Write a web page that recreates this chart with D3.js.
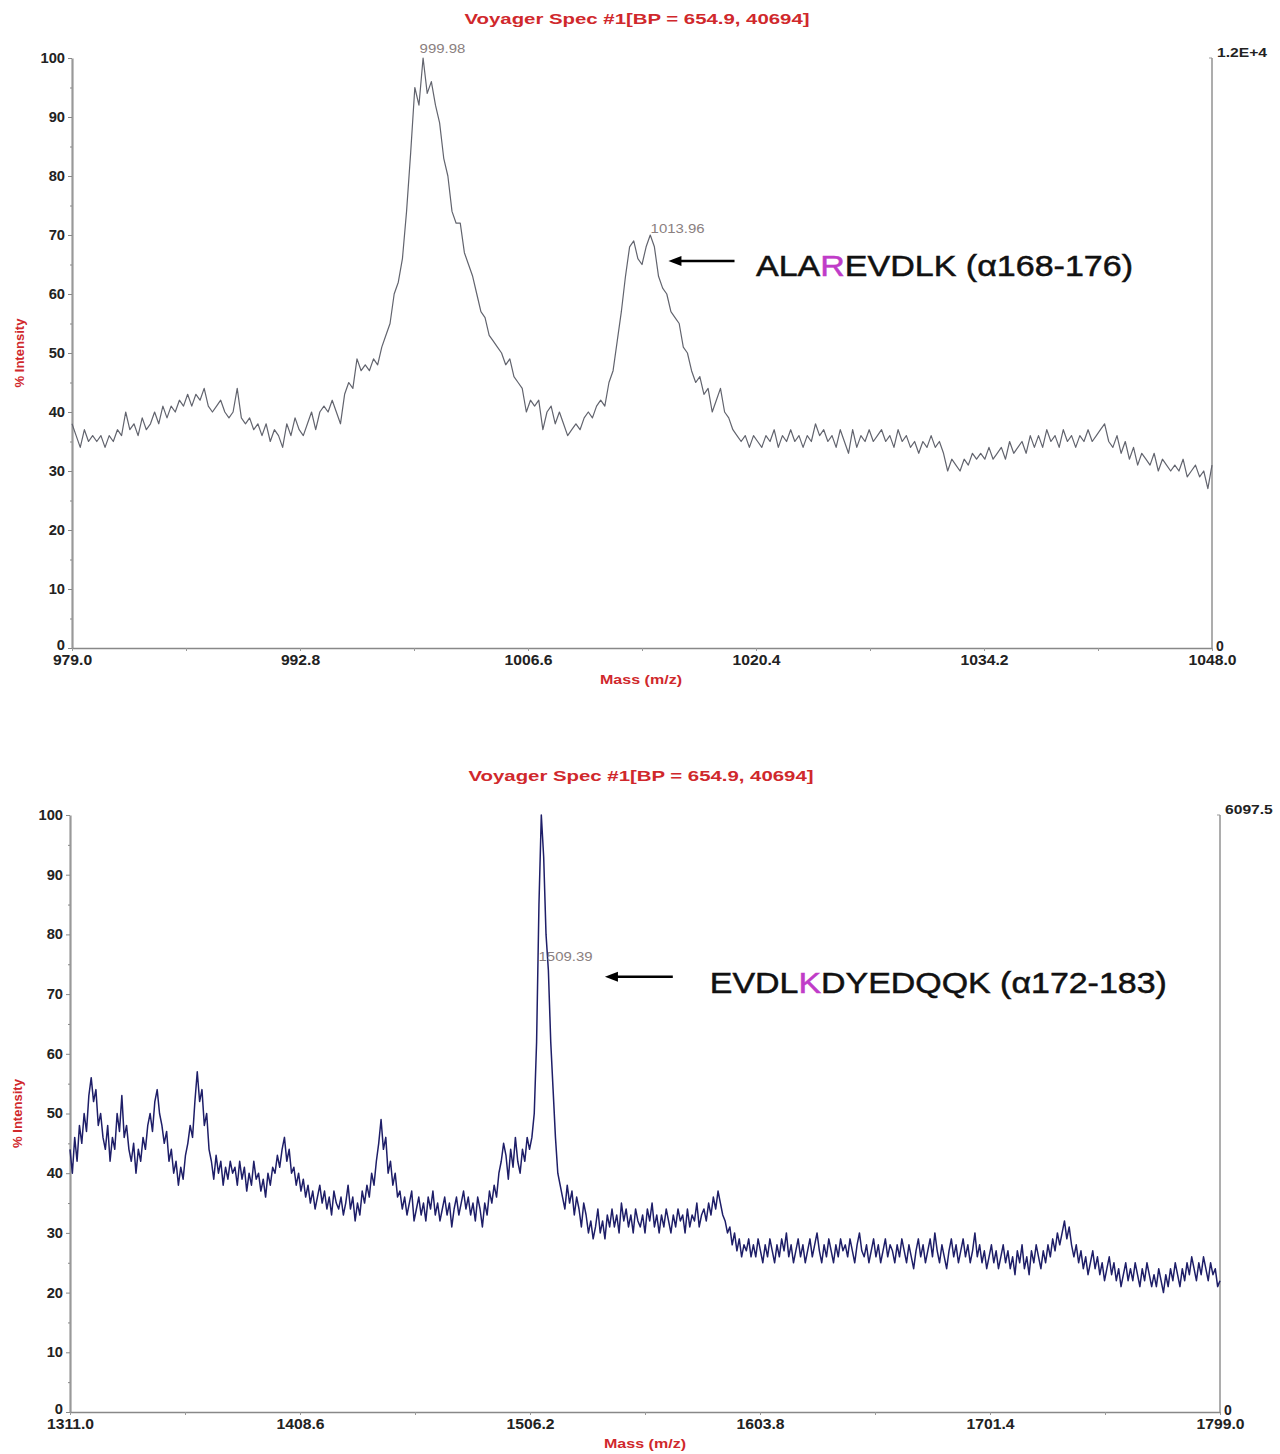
<!DOCTYPE html>
<html>
<head>
<meta charset="utf-8">
<script src="https://cdn.jsdelivr.net/npm/d3@7"></script>
<style>
body{margin:0;background:#fff}
svg text{font-family:"Liberation Sans",Arial,sans-serif}
</style>
</head>
<body>
<div id="graph"></div>
<script>
// spectrum 1: m/z 979.0 - 1048.0, % intensity per channel
var topMassRange = [979.0, 1048.0]
var topIntensity = [
  38,36,34,37,35,36,35,36,34,36,35,
  37,36,40,37,38,36,39,37,38,40,
  38,41,39,41,40,42,41,43,41,43,
  42,44,41,40,41,42,40,39,40,44,39,
  38,39,37,38,36,38,35,37,36,
  34,38,36,39,37,36,38,40,37,40,
  41,40,42,40,38,43,45,44,49,47,
  48,47,49,48,51,53,55,60,62,
  66,74,84,95,92,100,94,96,92,89,
  83,80,74,72,72,67,65,63,60,57,
  56,53,52,51,50,48,49,46,45,44,
  40,42,41,42,37,40,41,38,40,38,
  36,37,38,37,39,40,39,41,42,41,
  45,47,52,57,63,68,69,66,65,68,
  70,68,63,61,60,57,56,55,51,50,
  47,45,46,43,44,40,42,44,40,39,
  37,36,35,36,
  34,36,35,34,36,35,37,34,36,35,37,35,36,34,36,35,38,36,37,35,
  36,34,37,35,33,37,34,36,35,37,35,36,37,35,36,34,37,35,36,34,
  35,33,35,34,36,34,35,33,30,32,31,30,32,31,33,32,33,32,34,32,
  33,34,32,35,33,34,35,33,36,34,36,34,37,35,36,34,37,35,36,34,
  36,35,37,35,36,37,38,35,34,36,33,35,32,34,31,33,32,31,33,30,
  32,31,30,31,30,32,29,30,31,29,30,27,31
]

// spectrum 2: m/z 1311.0 - 1799.0
var botMassRange = [1311.0, 1799.0]
var botIntensity = [
  44,40,46,42,48,45,50,47,53,56,
  52,54,48,50,46,44,48,42,46,44,
  50,47,53,46,48,44,42,45,40,44,
  42,46,44,48,50,47,52,54,50,48,
  45,47,42,44,40,42,38,41,39,43,
  45,48,46,52,57,52,54,48,50,44,
  42,39,43,40,42,38,41,39,42,40,
  41,38,42,39,41,37,40,38,42,39,
  40,37,39,36,40,38,41,40,43,41,
  44,46,42,44,40,41,38,40,37,39,
  36,38,35,37,34,36,38,35,37,34,
  36,33,37,35,34,36,33,35,38,34,
  36,32,35,33,37,35,38,36,40,38,
  42,45,49,44,46,40,42,38,40,36,
  37,34,36,33,35,37,32,34,36,33,
  35,32,36,34,37,33,35,32,34,36,
  33,35,31,34,36,33,35,37,34,36,
  33,35,32,36,34,31,35,33,37,35,
  38,36,40,42,45,43,39,44,41,46,
  42,40,44,42,46,44,46,50,62,85,
  100,93,80,74,62,54,46,40,38,36,
  34,38,35,37,33,36,34,31,35,33,
  30,32,29,31,34,30,32,29,33,31,
  34,31,33,30,35,32,34,31,33,30,
  34,32,31,33,30,34,32,35,31,33,
  30,33,31,34,32,30,33,31,34,32,
  33,30,34,31,33,32,35,31,33,34,
  32,35,33,36,34,37,35,33,32,30,
  31,28,30,27,29,26,28,27,29,26,
  28,26,29,27,25,28,26,29,27,25,
  28,26,29,27,30,26,28,25,27,29,
  26,28,25,27,29,26,28,30,27,25,
  28,26,29,27,25,28,26,29,27,28,
  26,29,27,25,28,30,27,26,28,25,
  27,29,26,28,25,27,29,26,28,27,
  25,28,26,29,27,25,28,26,24,27,
  29,26,28,25,27,29,26,30,27,25,
  28,26,24,27,29,26,28,25,27,29,
  26,28,25,27,30,26,28,25,27,24,
  26,28,25,27,24,26,28,25,27,24,
  26,23,27,25,28,24,26,23,27,25,
  28,26,24,27,25,28,26,29,27,30,
  28,30,32,29,31,28,26,28,25,27,
  24,26,23,25,27,24,26,23,25,22,
  24,26,23,25,22,24,21,23,25,22,
  24,22,25,23,21,24,22,25,23,21,
  23,21,24,22,20,23,21,24,22,25,
  23,21,24,22,25,23,26,24,22,25,
  23,26,24,22,25,23,24,21,22
]

var topXTicks = [979.0, 992.8, 1006.6, 1020.4, 1034.2, 1048.0]
var botXTicks = [1311.0, 1408.6, 1506.2, 1603.8, 1701.4, 1799.0]
var yTicks = [0, 10, 20, 30, 40, 50, 60, 70, 80, 90, 100]
var yMinor = [5, 15, 25, 35, 45, 55, 65, 75, 85, 95]

var title = 'Voyager Spec #1[BP = 654.9, 40694]'
var topRightMax = '1.2E+4'
var botRightMax = '6097.5'

// peak labels: mass and the intensity level the label sits at
var topPeaks = [{mass: 999.98, level: 100.8}, {mass: 1013.96, level: 70.3}]
var botPeaks = [{mass: 1509.39, level: 75.5}]

var topPeptide = {pre: 'ALA', mark: 'R', post: 'EVDLK (\u03b1168-176)'}
var botPeptide = {pre: 'EVDL', mark: 'K', post: 'DYEDQQK (\u03b1172-183)'}

var svg = d3.select('#graph').append('svg')
  .attr('width', 1280).attr('height', 1454)

// the source scan is a little wider than Arial, stretch text to suit
function widen(sel, k){
  sel.each(function(){
    this.setAttribute('textLength', this.getComputedTextLength() * k)
    this.setAttribute('lengthAdjust', 'spacingAndGlyphs')
  })
}

function panel(o){
  var g = svg.append('g')
  var x = d3.scaleLinear().domain(o.range).range([o.left, o.right])
  var y = d3.scaleLinear().domain([0, 100]).range([o.bottom, o.top])
  var chan = d3.scaleLinear().domain([0, o.data.length - 1]).range(o.range)

  g.append('text').text(title)
    .attr('x', o.titleX).attr('y', o.top - 34)
    .attr('text-anchor', 'middle').attr('font-size', 15).attr('font-weight', 'bold')
    .attr('fill', '#d0282c').attr('textLength', 345).attr('lengthAdjust', 'spacingAndGlyphs')

  // left axis
  var ya = g.append('g').attr('transform', 'translate(' + o.left + ',0)')
    .call(d3.axisLeft(y).tickValues(yTicks).tickSize(4).tickSizeOuter(0).tickPadding(3))
  ya.append('g').call(d3.axisLeft(y).tickValues(yMinor).tickSize(2).tickFormat(''))
    .select('.domain').remove()
  ya.select('.domain').attr('stroke', '#999').attr('stroke-width', 2.2)
  ya.selectAll('.tick line').attr('stroke', '#888')
  ya.selectAll('.tick text').attr('font-size', 14).attr('font-weight', 'bold')
    .attr('fill', '#222').attr('font-family', '"Liberation Sans",Arial,sans-serif')
    .call(widen, 1.05)
  // the 0 on the left shares the corner with the first mass label
  ya.selectAll('.tick text').filter(d => d == 0).attr('dy', '0.1em')

  // bottom axis
  var mids = d3.pairs(o.xTicks).map(p => (p[0] + p[1]) / 2)
  var xa = g.append('g').attr('transform', 'translate(0,' + o.bottom + ')')
    .call(d3.axisBottom(x).tickValues(o.xTicks).tickSize(3).tickSizeOuter(0)
      .tickPadding(4).tickFormat(d3.format('.1f')))
  xa.append('g').call(d3.axisBottom(x).tickValues(mids).tickSize(3).tickFormat(''))
    .select('.domain').remove()
  xa.select('.domain').attr('stroke', '#888').attr('stroke-width', 1.6)
  xa.selectAll('.tick line').attr('stroke', '#999')
  xa.selectAll('.tick text').attr('font-size', 14).attr('font-weight', 'bold')
    .attr('fill', '#222').attr('font-family', '"Liberation Sans",Arial,sans-serif')
    .call(widen, 1.12)

  // right axis
  g.append('line').attr('x1', o.right).attr('x2', o.right)
    .attr('y1', o.top).attr('y2', o.bottom).attr('stroke', '#999').attr('stroke-width', 1.6)
  g.append('line').attr('x1', o.right - 3).attr('x2', o.right)
    .attr('y1', o.top).attr('y2', o.top).attr('stroke', '#999')
  g.append('text').text(o.rightMax).attr('x', o.right + 5).attr('y', o.top - 1)
    .attr('font-size', 12.5).attr('font-weight', 'bold').attr('fill', '#222')
    .call(widen, 1.25)
  g.append('text').text('0').attr('x', o.right + 4).attr('y', o.bottom + 3)
    .attr('font-size', 14).attr('font-weight', 'bold').attr('fill', '#222')

  // axis titles
  g.append('text').text('Mass (m/z)')
    .attr('x', o.titleX + 4).attr('y', o.bottom + 36)
    .attr('text-anchor', 'middle').attr('font-size', 13).attr('font-weight', 'bold')
    .attr('fill', '#d0282c').attr('textLength', 82).attr('lengthAdjust', 'spacingAndGlyphs')
  g.append('text').text('% Intensity')
    .attr('transform', 'translate(' + (o.left - 48) + ',' + y(50) + ') rotate(-90)')
    .attr('text-anchor', 'middle').attr('font-size', 12).attr('font-weight', 'bold')
    .attr('fill', '#d0282c').attr('textLength', 69).attr('lengthAdjust', 'spacingAndGlyphs')

  // spectrum
  g.append('path').datum(o.data)
    .attr('d', d3.line().x((d, i) => x(chan(i))).y(d => y(d)))
    .attr('fill', 'none').attr('stroke', o.color).attr('stroke-width', o.width)
    .attr('stroke-linejoin', 'round')

  g.selectAll('.peak').data(o.peaks).join('text').attr('class', 'peak')
    .text(d => d.mass.toFixed(2))
    .attr('x', d => x(d.mass) + 1).attr('y', d => y(d.level))
    .attr('font-size', 13).attr('fill', '#8a8080')
    .call(widen, 1.15)

  // annotation arrow and peptide
  var a = o.note
  g.append('line').attr('x1', x(a.tail)).attr('x2', x(a.head) + 10)
    .attr('y1', y(a.level)).attr('y2', y(a.level)).attr('stroke', '#000').attr('stroke-width', 2.4)
  g.append('path')
    .attr('d', 'M' + x(a.head) + ',' + y(a.level) + 'l13,-5l0,10z').attr('fill', '#000')
  var t = g.append('text').attr('x', x(a.text)).attr('y', y(a.textLevel))
    .attr('font-size', 29).attr('fill', '#111').attr('stroke', '#111').attr('stroke-width', 0.5)
    .attr('textLength', a.len).attr('lengthAdjust', 'spacingAndGlyphs')
  t.append('tspan').text(a.pep.pre)
  t.append('tspan').text(a.pep.mark).attr('fill', '#c03cc8').attr('stroke', '#c03cc8')
  t.append('tspan').text(a.pep.post)
}

panel({
  data: topIntensity, range: topMassRange, xTicks: topXTicks,
  left: 72, right: 1212, top: 58, bottom: 648, titleX: 637,
  rightMax: topRightMax, peaks: topPeaks, color: '#62646e', width: 1.2,
  note: {tail: 1019.1, head: 1015.1, level: 65.6, text: 1020.4, textLevel: 63.0, len: 377, pep: topPeptide}
})

panel({
  data: botIntensity, range: botMassRange, xTicks: botXTicks,
  left: 70, right: 1220, top: 815, bottom: 1412, titleX: 641,
  rightMax: botRightMax, peaks: botPeaks, color: '#1e1e68', width: 1.5,
  note: {tail: 1566.8, head: 1538.0, level: 72.9, text: 1582.5, textLevel: 70.2, len: 457, pep: botPeptide}
})
</script>
</body>
</html>
